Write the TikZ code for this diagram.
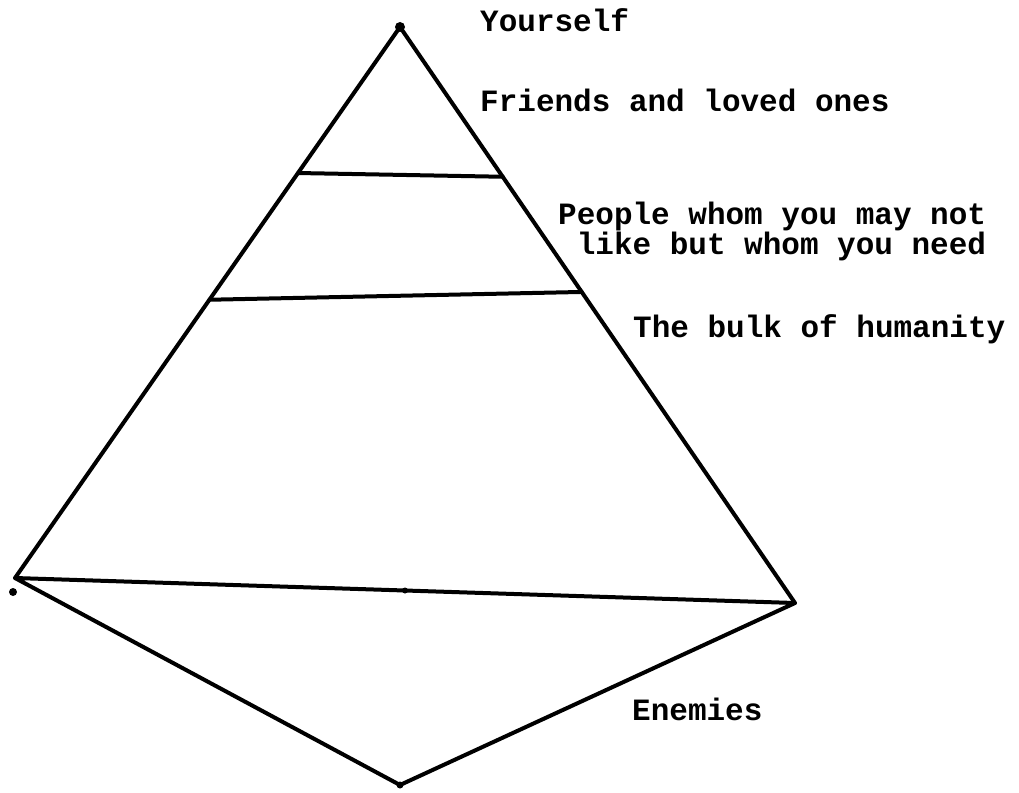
\documentclass[tikz,border=0pt]{standalone}
\usepackage{fontspec}
\setmonofont{Liberation Mono}
\usetikzlibrary{calc}
\tikzset{
  edge/.style={line width=4pt,line cap=round,line join=round},
  level/.style={anchor=base west,inner sep=0pt,font=\ttfamily\bfseries\fontsize{31}{30}\selectfont,align=left}
}

\begin{document}
\begin{tikzpicture}[x=1pt,y=-1pt]
  \useasboundingbox (0,0) rectangle (1019,792);
  % corners of the pyramid
  \coordinate (apex) at (400,27);
  \coordinate (left) at (15,578);
  \coordinate (right) at (795,603);
  \coordinate (bottom) at (400,785);
  \draw[edge] (left)--(apex)--(right);
  \draw[edge] (left)--(right)--(bottom)--cycle;
  % the two tiers inside
  \draw[edge] ($(apex)!.265!(left)$)--($(apex)!.26!(right)$);
  \draw[edge] ($(apex)!.495!(left)$)--($(apex)!.46!(right)$);
  \fill (apex) circle (5pt);
  \fill (bottom) circle (3.5pt);
  \fill ($(left)!.5!(right)$) circle (3pt);
  \fill (13,592) circle (4pt);
  % labels
  \node[level] (self) at (480,32) {Yourself};
  \node[level] (friends) at (480,111) {Friends and loved ones};
  \node[level] (need) at (558,254) {People whom you may not\\\ like but whom you need};
  \node[level] (bulk) at (633,337) {The bulk of humanity};
  \node[level] (enemies) at (632,720) {Enemies};
\end{tikzpicture}
\end{document}
